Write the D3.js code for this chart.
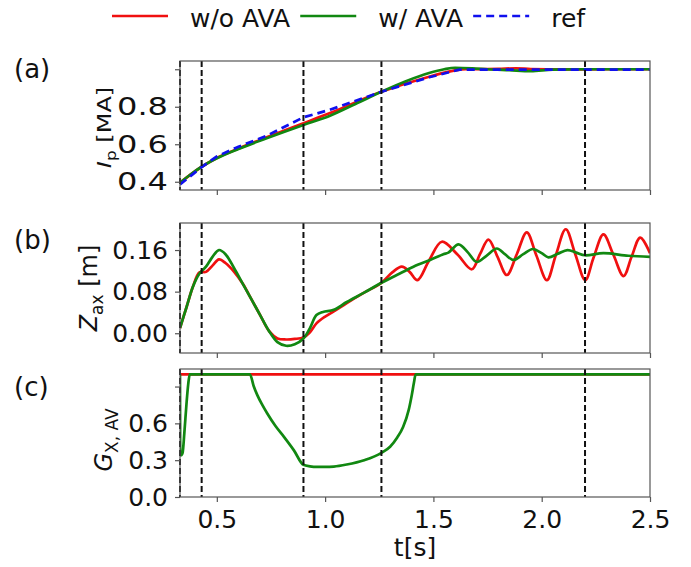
<!DOCTYPE html>
<html>
<head>
<meta charset="utf-8">
<script src="https://cdn.jsdelivr.net/npm/d3@7"></script>
<style>
    body { margin: 0; background: #fff; }
    svg text { font-family: "DejaVu Sans", sans-serif; fill: #111; }
</style>
</head>
<body>
<div id="plot"></div>
<script>
// ---- data ----
let xTicks = [0.5, 1.0, 1.5, 2.0, 2.5];
let xTickLabels = ["0.5", "1.0", "1.5", "2.0", "2.5"];
let markTimes = [0.33, 0.43, 0.9, 1.26, 2.2];

// (a) plasma current
let ipTimeNoAva = [0.33, 0.43, 0.5, 0.6, 0.73, 0.9, 1.02, 1.26, 1.48, 1.6, 1.65, 1.8, 1.88, 1.95, 2.1, 2.3, 2.5];
let ipNoAva = [0.395, 0.48, 0.527, 0.577, 0.637, 0.712, 0.765, 0.88, 0.96, 0.994, 1.0, 1.002, 1.005, 1.001, 0.999, 1.0, 1.0];
let ipTimeAva = [0.33, 0.38, 0.43, 0.5, 0.6, 0.73, 0.9, 1.02, 1.14, 1.26, 1.37, 1.48, 1.55, 1.6, 1.68, 1.75, 1.85, 1.95, 2.05, 2.2, 2.5];
let ipAva = [0.395, 0.44, 0.48, 0.525, 0.575, 0.632, 0.703, 0.751, 0.815, 0.88, 0.935, 0.98, 1.0, 1.008, 1.005, 1.0, 0.995, 0.99, 0.998, 1.0, 1.0];
let ipTimeRef = [0.33, 0.43, 0.5, 0.6, 0.73, 0.9, 1.02, 1.26, 1.48, 1.62, 2.5];
let ipRef = [0.385, 0.478, 0.535, 0.587, 0.645, 0.744, 0.783, 0.88, 0.957, 0.998, 0.998];
let ipTicks = [0.4, 0.6, 0.8, 1.0];
let ipTickLabels = ["0.4", "0.6", "0.8", ""];

// (b) vertical position of the magnetic axis
let zTimeNoAva = [0.33, 0.36, 0.39, 0.42, 0.45, 0.48, 0.51, 0.54, 0.58, 0.62, 0.66, 0.70, 0.74, 0.78, 0.82, 0.86, 0.9, 0.93, 0.96, 1.0, 1.04, 1.1, 1.18, 1.26, 1.31, 1.354, 1.39, 1.426, 1.48, 1.539, 1.61, 1.677, 1.715, 1.754, 1.795, 1.839, 1.885, 1.931, 1.975, 2.024, 2.065, 2.111, 2.155, 2.201, 2.24, 2.285, 2.33, 2.378, 2.415, 2.455, 2.5];
let zNoAva = [0.01, 0.05, 0.09, 0.117, 0.118, 0.13, 0.142, 0.135, 0.118, 0.095, 0.065, 0.035, 0.005, -0.01, -0.012, -0.011, -0.008, 0.002, 0.019, 0.032, 0.042, 0.058, 0.078, 0.097, 0.117, 0.128, 0.118, 0.102, 0.14, 0.176, 0.152, 0.123, 0.152, 0.18, 0.148, 0.112, 0.152, 0.194, 0.15, 0.102, 0.15, 0.2, 0.152, 0.102, 0.146, 0.19, 0.152, 0.11, 0.147, 0.184, 0.154];
let zTimeAva = [0.33, 0.36, 0.39, 0.42, 0.45, 0.48, 0.51, 0.54, 0.58, 0.62, 0.66, 0.70, 0.74, 0.78, 0.82, 0.86, 0.9, 0.93, 0.96, 0.99, 1.04, 1.1, 1.18, 1.26, 1.331, 1.408, 1.485, 1.546, 1.569, 1.616, 1.66, 1.70, 1.745, 1.793, 1.83, 1.87, 1.915, 1.959, 2.0, 2.031, 2.075, 2.119, 2.16, 2.2, 2.285, 2.4, 2.5];
let zAva = [0.01, 0.05, 0.09, 0.115, 0.128, 0.147, 0.16, 0.152, 0.125, 0.095, 0.065, 0.035, 0.005, -0.017, -0.024, -0.021, -0.01, 0.01, 0.035, 0.041, 0.045, 0.06, 0.078, 0.097, 0.112, 0.128, 0.141, 0.152, 0.155, 0.171, 0.155, 0.137, 0.149, 0.163, 0.152, 0.141, 0.152, 0.162, 0.154, 0.146, 0.153, 0.16, 0.155, 0.15, 0.154, 0.149, 0.147];
let zTicks = [0.0, 0.08, 0.16];
let zTickLabels = ["0.00", "0.08", "0.16"];

// (c) avoidance gain
let gTimeNoAva = [0.33, 2.5];
let gNoAva = [1.0, 1.0];
let gTimeAva = [0.33, 0.331, 0.335, 0.342, 0.35, 0.36, 0.368, 0.375, 0.653, 0.67, 0.687, 0.71, 0.733, 0.77, 0.81, 0.856, 0.9, 0.93, 0.963, 1.0, 1.04, 1.1, 1.18, 1.26, 1.3, 1.333, 1.36, 1.386, 1.4, 1.41, 1.418, 2.5];
let gAva = [1.0, 0.34, 0.34, 0.36, 0.52, 0.76, 0.92, 1.0, 1.0, 0.905, 0.83, 0.75, 0.68, 0.58, 0.49, 0.38, 0.262, 0.25, 0.245, 0.245, 0.248, 0.265, 0.3, 0.36, 0.41, 0.485, 0.57, 0.71, 0.83, 0.93, 1.0, 1.0];
let gTicks = [0.0, 0.3, 0.6, 0.9];
let gTickLabels = ["0.0", "0.3", "0.6", ""];

let legendLabels = ["w/o AVA", "w/ AVA", "ref"];
let legendColors = ["#f01010", "#118811", "#1010ee"];

// ---- layout ----
let width = 691;
let height = 567;
let left = 180;
let right = 650;
let red = legendColors[0], green = legendColors[1], blue = legendColors[2];

let svg = d3.select("#plot")
    .append("svg")
    .attr("width", width)
    .attr("height", height);

let x = d3.scaleLinear().domain([0.33, 2.5]).range([left, right]);

function zip(ts, vs) {
    return ts.map((t, i) => ({t: t, v: vs[i]}));
}

function drawPanel(p) {
    let y = d3.scaleLinear().domain(p.domain).range([p.bottom, p.top]);
    let g = svg.append("g");

    g.append("clipPath").attr("id", "clip" + p.id)
        .append("rect")
        .attr("x", left).attr("y", p.top)
        .attr("width", right - left).attr("height", p.bottom - p.top);

    let lines = g.append("g").attr("clip-path", "url(#clip" + p.id + ")");
    p.series.forEach(function (s) {
        let line = d3.line()
            .x(d => x(d.t))
            .y(d => y(d.v))
            .curve(s.curve || d3.curveLinear);
        lines.append("path")
            .datum(zip(s.t, s.v))
            .attr("d", line)
            .attr("fill", "none")
            .attr("stroke", s.color)
            .attr("stroke-width", 2.7)
            .attr("stroke-dasharray", s.dash || null);
    });

    // vertical markers
    markTimes.forEach(function (t) {
        g.append("line")
            .attr("x1", x(t)).attr("x2", x(t))
            .attr("y1", p.top).attr("y2", p.bottom)
            .attr("stroke", "#111")
            .attr("stroke-width", 2)
            .attr("stroke-dasharray", "6,3");
    });

    // frame
    g.append("rect")
        .attr("x", left).attr("y", p.top)
        .attr("width", right - left).attr("height", p.bottom - p.top)
        .attr("fill", "none")
        .attr("stroke", "#555")
        .attr("stroke-width", 1.2);

    let xAxis = d3.axisBottom(x)
        .tickValues(xTicks)
        .tickSize(5)
        .tickPadding(8)
        .tickFormat((d, i) => p.showX ? xTickLabels[i] : "");
    let xg = g.append("g")
        .attr("transform", "translate(0," + p.bottom + ")")
        .call(xAxis);

    let yAxis = d3.axisLeft(y)
        .tickValues(p.ticks)
        .tickSize(5)
        .tickPadding(7)
        .tickFormat((d, i) => p.tickLabels[i]);
    let yg = g.append("g")
        .attr("transform", "translate(" + left + ",0)")
        .call(yAxis);

    [xg, yg].forEach(function (ax) {
        ax.select(".domain").remove();
        ax.selectAll(".tick line").attr("stroke", "#555").attr("stroke-width", 1.2);
        ax.selectAll(".tick text")
            .style("font-family", "'DejaVu Sans', sans-serif")
            .style("font-size", "25px")
            .attr("fill", "#111");
    });
    if (p.stretch) {
        yg.selectAll(".tick text")
            .filter(function () { return this.textContent !== ""; })
            .attr("textLength", p.stretch)
            .attr("lengthAdjust", "spacingAndGlyphs");
    }

    // panel letter
    g.append("text")
        .attr("x", 14)
        .attr("y", p.letterY)
        .style("font-size", "26px")
        .text(p.letter);

    // y label with a subscript
    let mid = (p.top + p.bottom) / 2 + (p.labelShift || 0);
    let label = g.append("text")
        .attr("transform", "translate(" + p.labelX + "," + mid + ") rotate(-90) scale(1," + (p.labelSquash || 1) + ")")
        .style("text-anchor", "middle")
        .style("font-size", "24px");
    label.append("tspan").style("font-style", "italic").text(p.symbol);
    label.append("tspan").attr("dy", 6).style("font-size", "17px").text(p.sub);
    if (p.unit) {
        label.append("tspan").attr("dy", -6).text(" " + p.unit);
    }
    return y;
}

drawPanel({
    id: "a", top: 61, bottom: 190, domain: [0.356, 1.044],
    ticks: ipTicks, tickLabels: ipTickLabels, stretch: 51,
    letter: "(a)", letterY: 78, labelX: 111, labelShift: 2, labelSquash: 0.78,
    symbol: "I", sub: "p", unit: "[MA]",
    series: [
        {t: ipTimeNoAva, v: ipNoAva, color: red, curve: d3.curveMonotoneX},
        {t: ipTimeAva, v: ipAva, color: green, curve: d3.curveMonotoneX},
        {t: ipTimeRef, v: ipRef, color: blue, dash: "8,5"}
    ]
});

drawPanel({
    id: "b", top: 223, bottom: 353, domain: [-0.038, 0.212],
    ticks: zTicks, tickLabels: zTickLabels,
    letter: "(b)", letterY: 249, labelX: 97, symbol: "Z", sub: "ax", unit: "[m]",
    series: [
        {t: zTimeNoAva, v: zNoAva, color: red, curve: d3.curveCatmullRom},
        {t: zTimeAva, v: zAva, color: green, curve: d3.curveCatmullRom}
    ]
});

drawPanel({
    id: "c", top: 369, bottom: 497, domain: [0, 1.043],
    ticks: gTicks, tickLabels: gTickLabels, showX: true,
    letter: "(c)", letterY: 396, labelX: 112, labelShift: 7, symbol: "G", sub: "X, AV",
    series: [
        {t: gTimeNoAva, v: gNoAva, color: red},
        {t: gTimeAva, v: gAva, color: green, curve: d3.curveMonotoneX}
    ]
});

// x label
svg.append("text")
    .attr("x", (left + right) / 2)
    .attr("y", 556)
    .style("text-anchor", "middle")
    .style("font-size", "25px")
    .text("t[s]");

// legend
let legendDash = [null, null, "8,5"];
let lx = 112;
legendLabels.forEach(function (name, i) {
    svg.append("line")
        .attr("x1", lx).attr("x2", lx + 56)
        .attr("y1", 16).attr("y2", 16)
        .attr("stroke", legendColors[i])
        .attr("stroke-width", 2.7)
        .attr("stroke-dasharray", legendDash[i]);
    let txt = svg.append("text")
        .attr("x", lx + 78)
        .attr("y", 27)
        .style("font-size", "25px")
        .text(name);
    lx = lx + 78 + txt.node().getComputedTextLength() + 10;
});
</script>
</body>
</html>
